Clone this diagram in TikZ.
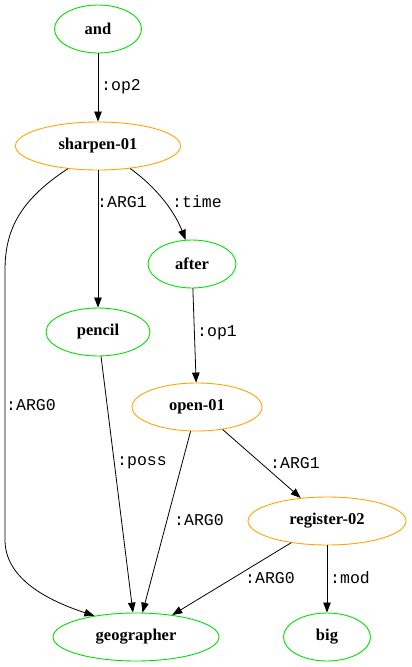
\documentclass[tikz,border=0pt]{standalone}
\usepackage{fontspec}
\setmainfont{Liberation Serif}
\newfontfamily\lblfont{Liberation Mono}
\usetikzlibrary{shapes.geometric,arrows.meta}
\definecolor{nodegreen}{HTML}{00E000}
\definecolor{nodeorange}{HTML}{FFA500}
\tikzset{
  concept/.style={ellipse, draw, line width=0.9pt, inner sep=0pt, minimum height=48pt,
    font=\fontsize{16.5}{18}\selectfont\bfseries},
  gnode/.style={concept, draw=nodegreen},
  onode/.style={concept, draw=nodeorange},
  edge/.style={draw=black, line width=0.8pt, -{Triangle[length=10pt,width=7.5pt]}},
  elabel/.style={anchor=west, inner sep=0pt, font=\lblfont\fontsize{16.5}{18}\selectfont}
}
\begin{document}
\begin{tikzpicture}[x=1pt,y=-1pt]
\useasboundingbox (0,0) rectangle (412,667);
\node[gnode, minimum width=87pt] (and) at (98,29) {and};
\node[onode, minimum width=165pt] (sharpen) at (98,146) {sharpen-01};
\node[gnode, minimum width=88pt] (after) at (192,264) {after};
\node[gnode, minimum width=104pt] (pencil) at (98,332) {pencil};
\node[onode, minimum width=130pt] (open) at (197,407) {open-01};
\node[onode, minimum width=158pt] (register) at (327,521) {register-02};
\node[gnode, minimum width=166pt] (geographer) at (136,637) {geographer};
\node[gnode, minimum width=87pt] (big) at (327,637) {big};

\draw[edge] (and) -- (sharpen);
\draw[edge] (sharpen) -- (pencil);
\draw[edge] (sharpen.-35) .. controls (160,190) and (176,215) .. (after.105);
\draw[edge] (sharpen.217) .. controls (20,200) and (5,230) .. (5,270) -- (5,540)
  .. controls (5,575) and (40,598) .. (geographer.153);
\draw[edge] (after) -- (open);
\draw[edge] (pencil) -- (geographer);
\draw[edge] (open) -- (geographer);
\draw[edge] (open) -- (register);
\draw[edge] (register) -- (geographer);
\draw[edge] (register) -- (big);

\node[elabel] (l1) at (101,87) {:op2};
\node[elabel] (l2) at (97,202) {:ARG1};
\node[elabel] (l3) at (172,202) {:time};
\node[elabel] (l4) at (6,405) {:ARG0};
\node[elabel] (l5) at (197,333) {:op1};
\node[elabel] (l6) at (117,463) {:poss};
\node[elabel] (l7) at (174,520) {:ARG0};
\node[elabel] (l8) at (270,463) {:ARG1};
\node[elabel] (l9) at (245,578) {:ARG0};
\node[elabel] (l10) at (330,578) {:mod};
\end{tikzpicture}
\end{document}
